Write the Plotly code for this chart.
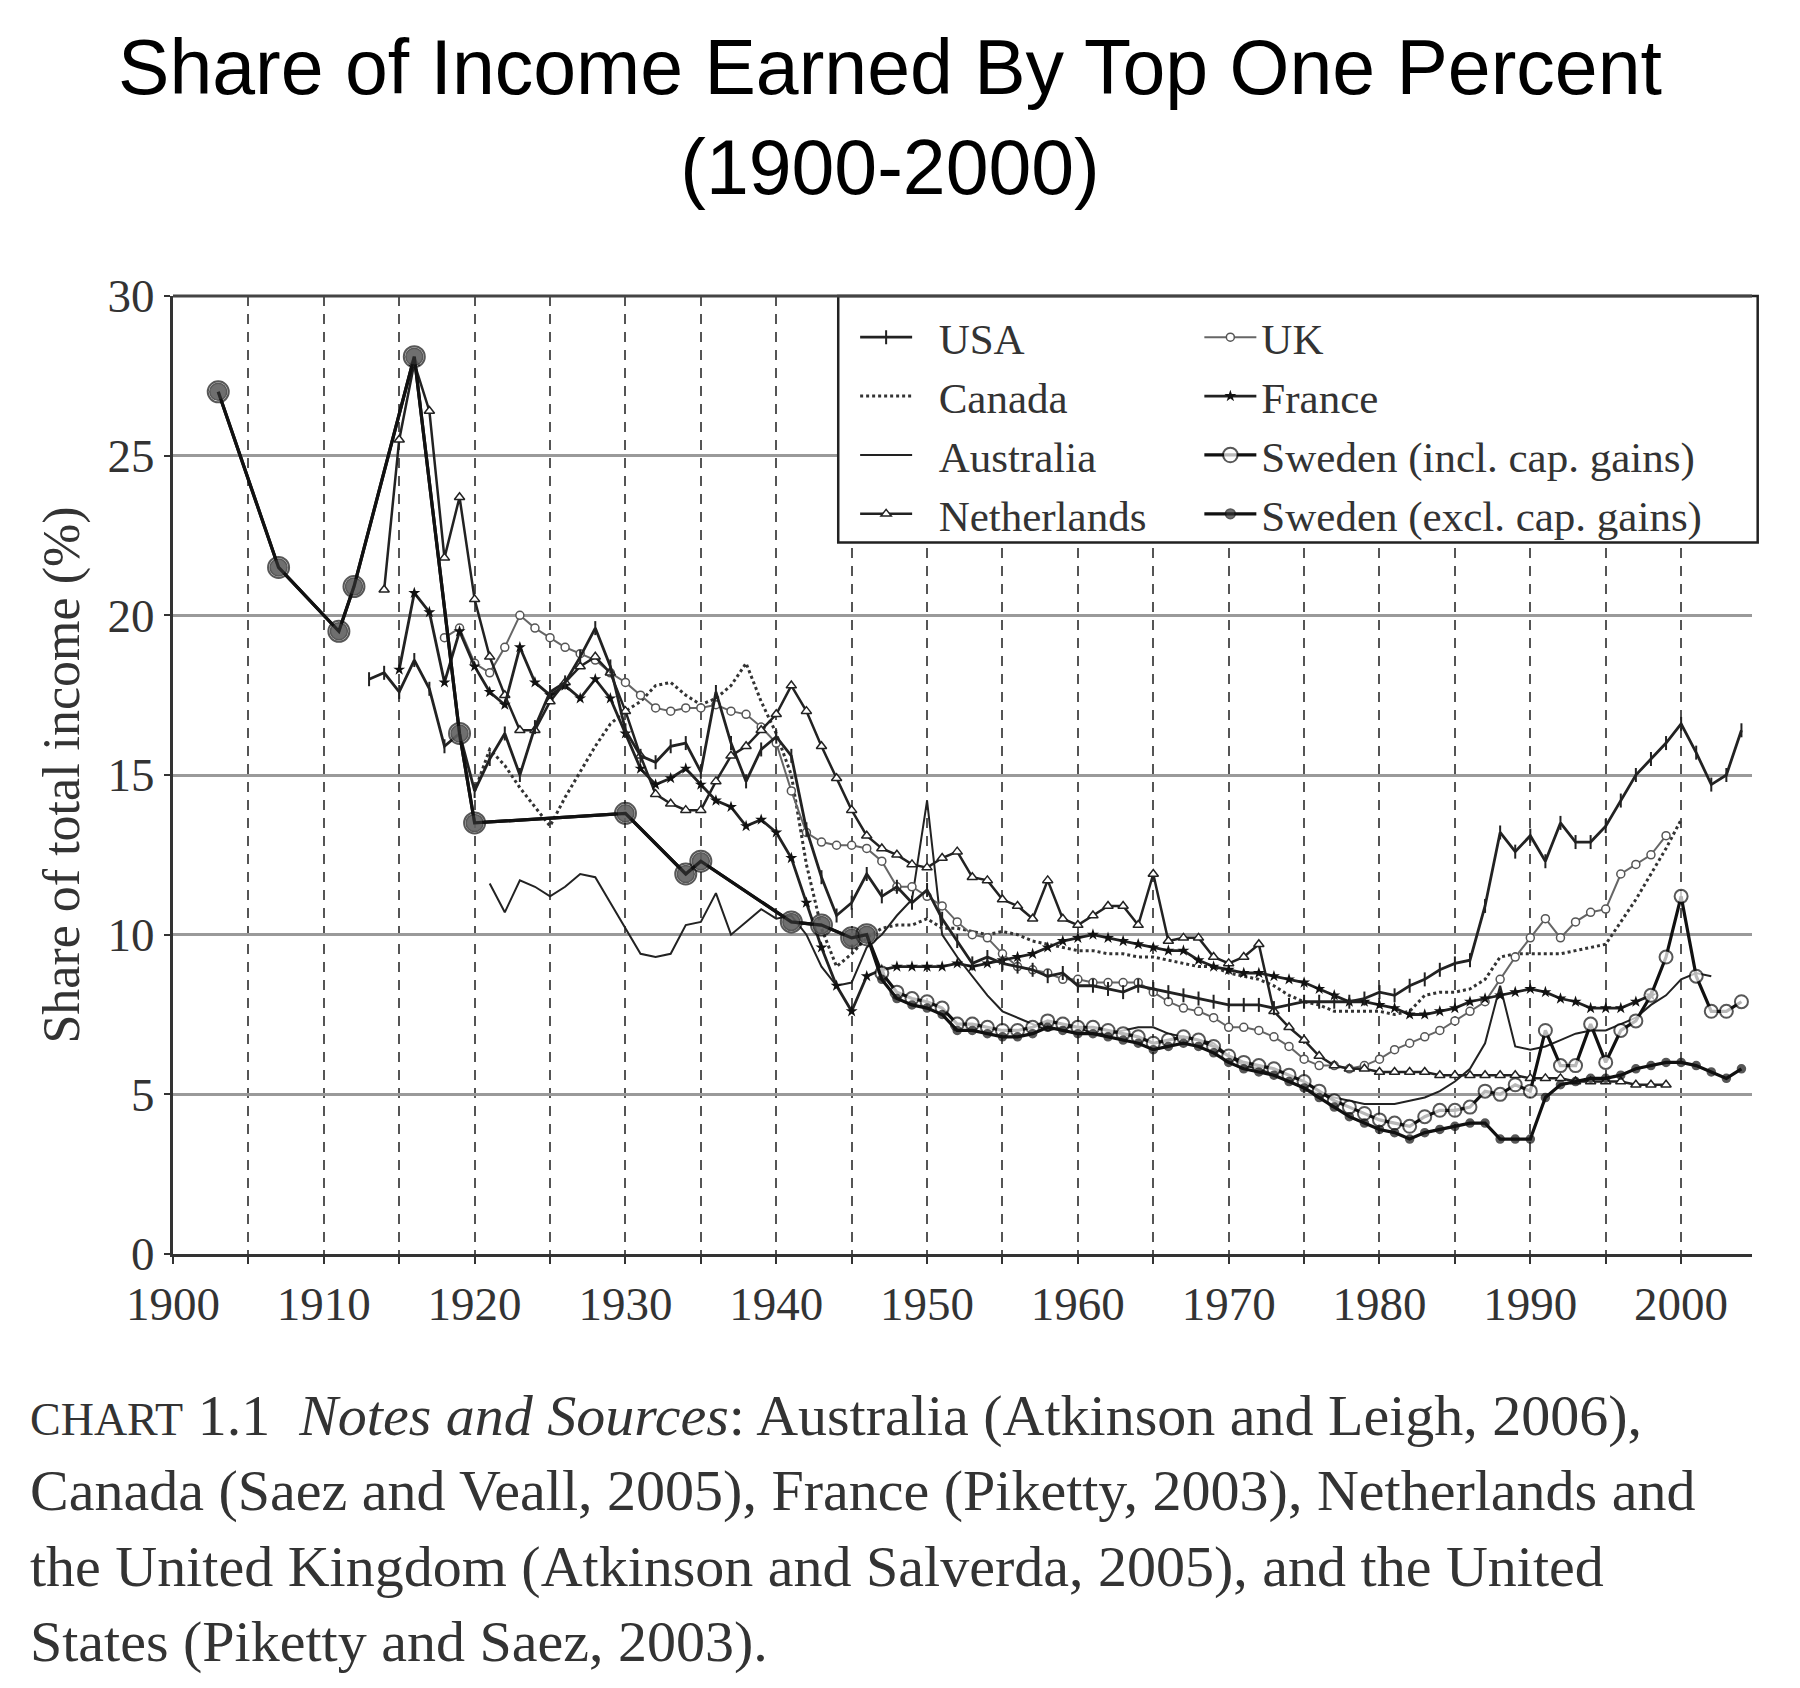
import plotly.graph_objects as go

# Данные: доля дохода верхнего 1% (%)
usa_years = list(range(1913, 2005))
usa_vals = [18.0, 18.2, 17.6, 18.6, 17.7, 15.9, 16.3, 14.5, 15.5, 16.3,
            15.0, 16.5, 17.6, 17.9, 18.7, 19.6, 18.4, 16.4, 15.6, 15.4,
            15.9, 16.0, 15.1, 17.6, 16.0, 14.8, 15.8, 16.2, 15.6, 13.3,
            11.8, 10.6, 11.0, 11.9, 11.2, 11.5, 11.0, 11.4, 10.5, 9.8,
            9.1, 9.3, 9.1, 9.0, 8.9, 8.7, 8.8, 8.4, 8.4, 8.3,
            8.2, 8.4, 8.3, 8.2, 8.1, 8.0, 7.9, 7.8, 7.8, 7.8,
            7.7, 7.8, 7.9, 7.9, 7.9, 7.9, 8.0, 8.2, 8.1, 8.4,
            8.6, 8.9, 9.1, 9.2, 10.9, 13.2, 12.6, 13.1, 12.3, 13.5,
            12.9, 12.9, 13.4, 14.2, 15.0, 15.5, 16.0, 16.6, 15.7, 14.7,
            15.0, 16.4]

canada_years = list(range(1920, 2001))
canada_vals = [14.5, 15.8, 15.3, 14.6, 14.0, 13.4, 14.3, 15.1, 15.9, 16.6,
               17.0, 17.3, 17.8, 17.9, 17.5, 17.2, 17.4, 17.8, 18.5, 17.3,
               16.3, 15.0, 12.2, 10.2, 9.0, 9.4, 9.9, 10.2, 10.3, 10.3,
               10.5, 10.2, 10.2, 10.1, 10.0, 10.1, 10.0, 9.8, 9.7, 9.6,
               9.5, 9.5, 9.4, 9.4, 9.3, 9.3, 9.2, 9.1, 9.0, 9.0,
               8.8, 8.7, 8.6, 8.4, 8.1, 7.9, 7.8, 7.6, 7.6, 7.6,
               7.6, 7.5, 7.6, 8.1, 8.2, 8.2, 8.3, 8.6, 9.3, 9.4,
               9.4, 9.4, 9.4, 9.5, 9.6, 9.7, 10.4, 11.1, 11.9, 12.7,
               13.6]

australia_years = list(range(1921, 2003))
australia_vals = [11.6, 10.7, 11.7, 11.5, 11.2, 11.5, 11.9, 11.8, 11.0, 10.2,
                  9.4, 9.3, 9.4, 10.3, 10.4, 11.3, 10.0, 10.4, 10.8, 10.5,
                  10.6, 10.0, 9.0, 8.4, 8.5, 9.6, 10.0, 10.6, 11.1, 14.2,
                  10.0, 9.3, 8.7, 8.1, 7.6, 7.4, 7.2, 7.0, 7.1, 7.1,
                  6.9, 6.9, 7.0, 7.1, 7.1, 6.9, 6.8, 6.7, 6.6, 6.2,
                  5.9, 5.8, 5.6, 5.4, 5.2, 5.0, 4.9, 4.8, 4.7, 4.7,
                  4.7, 4.8, 4.9, 5.1, 5.4, 5.8, 6.6, 8.4, 6.5, 6.4,
                  6.5, 6.7, 6.9, 7.0, 7.0, 7.2, 7.4, 7.8, 8.1, 8.6,
                  8.8, 8.7]

netherlands_years = list(range(1914, 2000))
netherlands_vals = [20.8, 25.5, 27.9, 26.4, 21.8, 23.7, 20.5, 18.7, 17.5, 16.4,
                    16.4, 17.3, 17.9, 18.4, 18.7, 18.2, 17.0, 15.6, 14.4, 14.1,
                    13.9, 13.9, 14.8, 15.6, 15.9, 16.4, 16.9, 17.8, 17.0, 15.9,
                    14.9, 13.9, 13.1, 12.7, 12.5, 12.2, 12.1, 12.4, 12.6, 11.8,
                    11.7, 11.1, 10.9, 10.5, 11.7, 10.5, 10.3, 10.6, 10.9, 10.9,
                    10.3, 11.9, 9.8, 9.9, 9.9, 9.3, 9.1, 9.3, 9.7, 7.6,
                    7.1, 6.7, 6.2, 5.9, 5.8, 5.8, 5.7, 5.7, 5.7, 5.7,
                    5.6, 5.6, 5.6, 5.6, 5.6, 5.6, 5.5, 5.5, 5.5, 5.4,
                    5.4, 5.4, 5.4, 5.3, 5.3, 5.3]

uk_years = list(range(1918, 2000))
uk_vals = [19.3, 19.6, 18.5, 18.2, 19.0, 20.0, 19.6, 19.3, 19.0, 18.8,
           18.6, 18.2, 17.9, 17.5, 17.1, 17.0, 17.1, 17.1, 17.2, 17.0,
           16.9, 16.5, 16.0, 14.5, 13.2, 12.9, 12.8, 12.8, 12.7, 12.3,
           11.5, 11.5, 11.2, 10.9, 10.4, 10.0, 9.9, 9.4, 9.0, 8.9,
           8.8, 8.6, 8.6, 8.5, 8.5, 8.5, 8.5, 8.2, 7.9, 7.7,
           7.6, 7.4, 7.1, 7.1, 7.0, 6.8, 6.5, 6.1, 5.9, 5.9,
           5.8, 5.9, 6.1, 6.4, 6.6, 6.8, 7.0, 7.3, 7.6, 7.9,
           8.6, 9.3, 9.9, 10.5, 9.9, 10.4, 10.7, 10.8, 11.9, 12.2,
           12.5, 13.1]

france_years = list(range(1915, 1999))
france_vals = [18.3, 20.7, 20.1, 17.9, 19.5, 18.4, 17.6, 17.2, 19.0, 17.9,
               17.5, 17.8, 17.4, 18.0, 17.4, 16.3, 15.2, 14.7, 14.9, 15.2,
               14.7, 14.2, 14.0, 13.4, 13.6, 13.2, 12.4, 11.0, 9.6, 8.4,
               7.6, 8.7, 8.9, 9.0, 9.0, 9.0, 9.0, 9.1, 9.0, 9.1,
               9.2, 9.3, 9.4, 9.6, 9.8, 9.9, 10.0, 9.9, 9.8, 9.7,
               9.6, 9.5, 9.5, 9.2, 9.0, 8.9, 8.8, 8.8, 8.7, 8.6,
               8.5, 8.3, 8.1, 7.9, 7.9, 7.8, 7.7, 7.5, 7.5, 7.6,
               7.7, 7.9, 8.0, 8.1, 8.2, 8.3, 8.2, 8.0, 7.9, 7.7,
               7.7, 7.7, 7.9, 8.1]

# Швеция: редкие ранние наблюдения (общие для обеих серий) + годовые с 1947
sweden_early_years = [1903, 1907, 1911, 1912, 1916, 1919, 1920, 1930, 1934,
                      1935, 1941, 1943, 1945, 1946]
sweden_early_vals = [27.0, 21.5, 19.5, 20.9, 28.1, 16.3, 13.5, 13.8, 11.9,
                     12.3, 10.4, 10.3, 9.9, 10.0]

sweden_years = list(range(1947, 2005))
sweden_incl_vals = [8.8, 8.2, 8.0, 7.9, 7.7, 7.2, 7.2, 7.1, 7.0, 7.0,
                    7.1, 7.3, 7.2, 7.1, 7.1, 7.0, 6.9, 6.8, 6.6, 6.7,
                    6.8, 6.7, 6.5, 6.2, 6.0, 5.9, 5.8, 5.6, 5.4, 5.1,
                    4.8, 4.6, 4.4, 4.2, 4.1, 4.0, 4.3, 4.5, 4.5, 4.6,
                    5.1, 5.0, 5.3, 5.1, 7.0, 5.9, 5.9, 7.2, 6.0, 7.0,
                    7.3, 8.1, 9.3, 11.2, 8.7, 7.6, 7.6, 7.9]
sweden_excl_vals = [8.6, 8.0, 7.8, 7.7, 7.5, 7.0, 7.0, 6.9, 6.8, 6.8,
                    6.9, 7.1, 7.0, 6.9, 6.9, 6.8, 6.7, 6.6, 6.4, 6.5,
                    6.6, 6.5, 6.3, 6.0, 5.8, 5.7, 5.6, 5.4, 5.2, 4.9,
                    4.6, 4.3, 4.1, 3.9, 3.8, 3.6, 3.8, 3.9, 4.0, 4.1,
                    4.1, 3.6, 3.6, 3.6, 4.9, 5.3, 5.4, 5.5, 5.5, 5.6,
                    5.8, 5.9, 6.0, 6.0, 5.9, 5.7, 5.5, 5.8]

y_tick_vals = [0, 5, 10, 15, 20, 25, 30]

SERIF = "Liberation Serif, Times New Roman, serif"
INK = "#222222"
GAP = "\u2002"  # отступ между значком и подписью в левой колонке легенды

fig = go.Figure()

# Австралия: тонкая линия без маркеров
fig.add_trace(go.Scatter(
    x=australia_years, y=australia_vals, name=GAP + "Australia", mode="lines",
    line=dict(color=INK, width=2), legend="legend", legendrank=3
))

# Канада: пунктир
fig.add_trace(go.Scatter(
    x=canada_years, y=canada_vals, name=GAP + "Canada", mode="lines",
    line=dict(color="#333333", width=3, dash="dot"), legend="legend", legendrank=2
))

# Великобритания: серая линия с мелкими кружками
fig.add_trace(go.Scatter(
    x=uk_years, y=uk_vals, name="UK", mode="lines+markers",
    line=dict(color="#666666", width=2),
    marker=dict(symbol="circle", size=8, color="white", line=dict(color="#555555", width=1.5)),
    legend="legend2", legendrank=1
))

# Нидерланды: треугольники
fig.add_trace(go.Scatter(
    x=netherlands_years, y=netherlands_vals, name=GAP + "Netherlands", mode="lines+markers",
    line=dict(color=INK, width=2.5),
    marker=dict(symbol="triangle-up", size=9, color="white", line=dict(color=INK, width=1.5)),
    legend="legend", legendrank=4
))

# Франция: звёздочки
fig.add_trace(go.Scatter(
    x=france_years, y=france_vals, name="France", mode="lines+markers",
    line=dict(color=INK, width=2.8),
    marker=dict(symbol="star", size=9, color="#111111"),
    legend="legend2", legendrank=2
))

# США: вертикальные штрихи
fig.add_trace(go.Scatter(
    x=usa_years, y=usa_vals, name=GAP + "USA", mode="lines+markers",
    line=dict(color=INK, width=2.8),
    marker=dict(symbol="line-ns", size=10, color=INK, line=dict(color=INK, width=2)),
    legend="legend", legendrank=1
))

# Швеция: ранние точки крупнее
se_x = sweden_early_years + sweden_years
se_sizes = [21 if yr < 1947 else 13 for yr in se_x]
fig.add_trace(go.Scatter(
    x=se_x, y=sweden_early_vals + sweden_incl_vals, name="Sweden (incl. cap. gains)",
    mode="lines+markers", line=dict(color="#111111", width=3.2),
    marker=dict(symbol="circle", size=se_sizes, color="white", line=dict(color="#111111", width=2)),
    legend="legend2", legendrank=3
))
fig.add_trace(go.Scatter(
    x=se_x, y=sweden_early_vals + sweden_excl_vals, name="Sweden (excl. cap. gains)",
    mode="lines+markers", line=dict(color="#111111", width=3.2),
    marker=dict(symbol="circle",
                size=[s - 4 if yr < 1947 else 8 for s, yr in zip(se_sizes, se_x)],
                color=["#333333" if yr < 1947 else "#111111" for yr in se_x],
                line=dict(color="#111111", width=1.5)),
    legend="legend2", legendrank=4
))

legend_common = dict(
    xanchor="left", yanchor="top", y=0.993,
    bgcolor="rgba(0,0,0,0)", borderwidth=0,
    font=dict(family=SERIF, size=43, color="#333333"),
    itemwidth=52, traceorder="normal", tracegroupgap=0
)

fig.update_layout(
    width=1800,
    height=1688,
    paper_bgcolor="white",
    plot_bgcolor="white",
    margin=dict(l=165, r=56, t=288, b=442),
    title=dict(
        text="Share of Income Earned By Top One Percent<br>(1900-2000)",
        x=0.49, xanchor="center", xref="container",
        y=0.949, yanchor="top", yref="container",
        font=dict(family="Liberation Sans, Arial, sans-serif", size=77, color="black")
    ),
    legend=dict(x=0.432, **legend_common),
    legend2=dict(x=0.650, **legend_common),
    showlegend=True,
    shapes=[
        # рамка легенды (закрывает сетку)
        dict(type="rect", xref="paper", yref="paper", x0=0.4213, x1=1.0036, y0=0.7428, y1=1.0,
             fillcolor="white", line=dict(color="#222222", width=2.5), layer="above"),
        # верхняя граница поля
        dict(type="line", xref="paper", yref="paper", x0=0, x1=1, y0=1, y1=1,
             line=dict(color="#444444", width=3), layer="above"),
    ],
    annotations=[
        dict(
            text=("<span style='font-size:46px'>CHART</span> 1.1  <i>Notes and Sources</i>: "
                  "Australia (Atkinson and Leigh, 2006),<br>"
                  "Canada (Saez and Veall, 2005), France (Piketty, 2003), Netherlands and<br>"
                  "the United Kingdom (Atkinson and Salverda, 2005), and the United<br>"
                  "States (Piketty and Saez, 2003)."),
            xref="paper", yref="paper", x=-0.0918, y=-0.133,
            xanchor="left", yanchor="top", align="left", showarrow=False,
            font=dict(family=SERIF, size=58, color="#333333")
        )
    ]
)

fig.update_xaxes(
    range=[1900, 2004.7],
    tickmode="linear", tick0=1900, dtick=10,
    ticks="outside", ticklen=7, tickwidth=2, tickcolor="#333333",
    tickfont=dict(family=SERIF, size=47, color="#333333"),
    showline=True, linecolor="#333333", linewidth=3,
    showgrid=True, gridcolor="#555555", gridwidth=1.5, griddash="10px,8px",
    minor=dict(tick0=1900, dtick=5, ticks="outside", ticklen=7, tickwidth=2, tickcolor="#333333",
               showgrid=True, gridcolor="#555555", gridwidth=1.5, griddash="10px,8px"),
    zeroline=False
)
fig.update_yaxes(
    range=[0, 30],
    tickmode="array", tickvals=y_tick_vals,
    ticks="outside", ticklen=6, tickwidth=2, tickcolor="#333333",
    tickfont=dict(family=SERIF, size=47, color="#333333"),
    showline=True, linecolor="#333333", linewidth=3,
    showgrid=True, gridcolor="#9a9a9a", gridwidth=2.5,
    zeroline=False,
    title=dict(text="Share of total income (%)", standoff=12,
               font=dict(family=SERIF, size=52, color="#333333"))
)

fig.write_html("out.html")
